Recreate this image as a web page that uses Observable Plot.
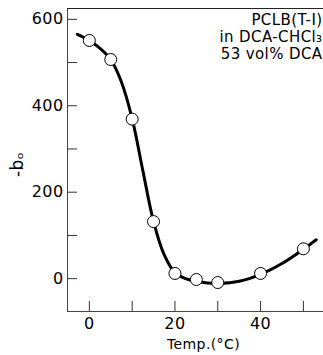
<!DOCTYPE html>
<html><head><meta charset="utf-8">
<script src="https://cdn.jsdelivr.net/npm/d3@7"></script>
<script src="https://cdn.jsdelivr.net/npm/@observablehq/plot@0.6"></script>
<style>body{margin:0;background:#fff}svg{display:block}svg text{letter-spacing:0.4px}</style>
</head><body><div id="chart"></div>
<script>
const tempPts = [0, 5, 10, 15, 20, 25, 30, 40, 50];
const bPts = [551, 507, 369, 132, 12, -2, -9, 12, 69];
const curveT = [-2.8, 0, 2.5, 5, 7.5, 10, 12.5, 15, 17.5, 20, 22.5, 25, 27.5, 30, 35, 40, 45, 50, 53];
const curveB = [565, 551, 533, 507, 455, 370, 250, 132, 55, 14, 0, -6, -10, -11, -6, 10, 35, 68, 90];
const xLabelTicks = [0, 20, 40];
const xTicks = [0, 10, 20, 30, 40, 50];
const yLabelTicks = [0, 200, 400, 600];
const yTicks = [0, 100, 200, 300, 400, 500, 600];
const annotation = "PCLB(T-I)\nin DCA-CHCl₃\n53 vol% DCA";

const pts = tempPts.map((t, i) => ({t, b: bPts[i]}));
const curve = curveT.map((t, i) => ({t, b: curveB[i]}));
const font = "DejaVu Sans";

const chart = Plot.plot({
  width: 323, height: 355,
  marginLeft: 67, marginRight: 0, marginTop: 8, marginBottom: 44,
  style: {fontFamily: font, fontSize: "15px", color: "#000", background: "#fff"},
  x: {domain: [-5.1, 54.7]},
  y: {domain: [-76, 625]},
  marks: [
    Plot.ruleX([-5.1], {stroke: "#444", strokeWidth: 1}),
    Plot.ruleY([-76], {stroke: "#444", strokeWidth: 1}),
    Plot.ruleY([625], {stroke: "#222", strokeWidth: 1}),
    Plot.axisY({ticks: yTicks, tickSize: -10, text: null, label: null, stroke: "#333"}),
    Plot.axisY({ticks: yLabelTicks, tickSize: 0, tickPadding: 4, label: null, fontSize: 16}),
    Plot.axisX({ticks: xTicks, tickSize: -10, text: null, label: null, stroke: "#333"}),
    Plot.axisX({ticks: xLabelTicks, tickSize: 0, tickPadding: 6, label: null, fontSize: 16}),
    Plot.line(curve, {x: "t", y: "b", curve: "catmull-rom", stroke: "#000", strokeWidth: 3}),
    Plot.dot(pts, {x: "t", y: "b", r: 6, fill: "#fff", stroke: "#000", strokeWidth: 1}),
    Plot.text([annotation], {frameAnchor: "top-right", textAnchor: "end", lineAnchor: "top", dx: -1, dy: 5, fontSize: 15, lineHeight: 1.12}),
    Plot.text(["Temp.(°C)"], {frameAnchor: "bottom", dx: 8, dy: 37, fontSize: 14}),
    Plot.text(["-bₒ"], {frameAnchor: "left", dx: -50, dy: 17, rotate: -90, fontSize: 17})
  ]
});
document.getElementById("chart").appendChild(chart);
</script></body></html>
